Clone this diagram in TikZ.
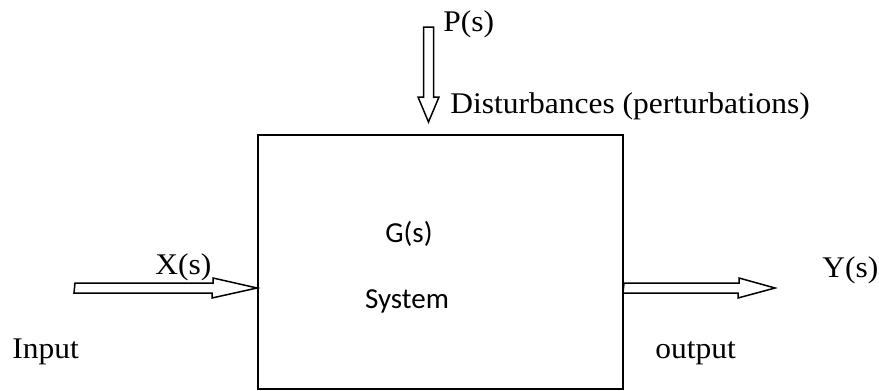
\documentclass[tikz,border=0pt]{standalone}
\usepackage{fontspec}
\usepackage{tikz}
\newfontfamily\tnr[FakeStretch=1.05]{Liberation Serif}
\newfontfamily\calfont{Carlito}
\tikzset{lbl/.style={draw=none, inner sep=0pt, anchor=base west,
  font=\tnr\fontsize{15}{18}\selectfont},
  inlbl/.style={draw=none, inner sep=0pt, anchor=base,
  font=\calfont\fontsize{14.5}{17}\selectfont},
  hollow/.style={draw, fill=white, line width=0.75pt, line join=miter}}

\begin{document}
\begin{tikzpicture}[x=0.5pt, y=-0.5pt]
  \useasboundingbox (0,0) rectangle (879,391);
  \node[draw, line width=1pt, minimum width=182.5pt, minimum height=127pt,
    inner sep=0pt] (sys) at (440.5,262) {};
  \node[inlbl] (g) at (409,242) {G(s)};
  \node[inlbl] (sysname) at (407,308) {System};
  \coordinate (ptop) at (428.5,27);
  \coordinate (ptip) at (428.5,122);
  \coordinate (xtail) at (75,288);
  \coordinate (ytip) at (775,288);
  % hollow arrows
  \draw[hollow] (ptop) ++(-5,0) -- ++(0,70) -- ++(-5.5,0) -- (ptip)
    -- ++(10.5,-25) -- ++(-5.5,0) -- ++(0,-70) -- cycle;
  \draw[hollow] (xtail) ++(0,-5) -- ++(138,0) -- ++(0,-5) -- (sys.west |- xtail)
    -- ++(-45,10) -- ++(0,-5) -- ++(-138,0) -- cycle;
  \draw[hollow] (sys.east |- ytip) ++(0,-5) -- ++(115,0) -- ++(0,-5) -- (ytip)
    -- ++(-37,10) -- ++(0,-5) -- ++(-115,0) -- cycle;
  % labels
  \node[lbl] (p) at (443,32) {P(s)};
  \node[lbl] (dist) at (450,113) {Disturbances (perturbations)};
  \node[lbl] (x) at (155,274) {X(s)};
  \node[lbl] (y) at (822,277) {Y(s)};
  \node[lbl] (in) at (12,358) {Input};
  \node[lbl] (out) at (655,358) {output};
\end{tikzpicture}
\end{document}
